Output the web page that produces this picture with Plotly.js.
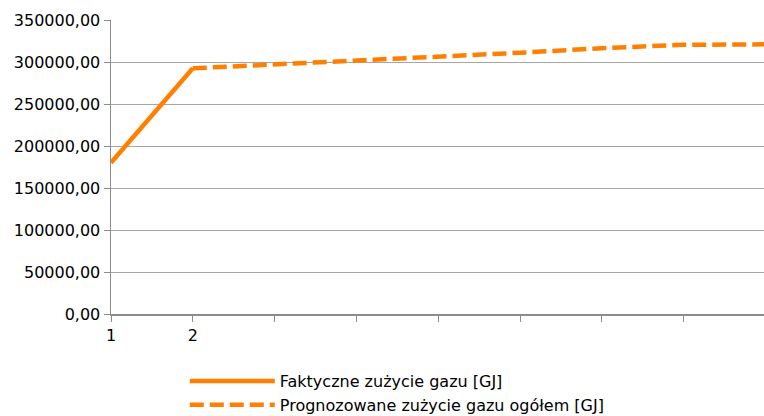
<!DOCTYPE html>
<html>
<head>
<meta charset="utf-8">
<script src="https://cdn.plot.ly/plotly-3.0.1.min.js"></script>
<style>
html,body{margin:0;padding:0;background:#fff;}
#chart{width:764px;height:416px;}
</style>
</head>
<body>
<div id="chart"></div>
<script>
// Data
var categories = [1, 2, 3, 4, 5, 6, 7, 8, 9];
var tickLabels = ["1", "2", "", "", "", "", "", "", ""];
var actualName = "Faktyczne zużycie gazu [GJ]";
var forecastName = "Prognozowane zużycie gazu ogółem [GJ]";
var actualValues = [180000, 292500, null, null, null, null, null, null, null];
var forecastValues = [null, 292500, 297000, 301500, 306000, 311000, 316500, 320500, 321000];
var yTickVals = [0, 50000, 100000, 150000, 200000, 250000, 300000, 350000];
var yTickText = ["0,00", "50000,00", "100000,00", "150000,00", "200000,00", "250000,00", "300000,00", "350000,00"];

var orange = "#ff8000";
var fontFam = "DejaVu Sans, sans-serif";

var traces = [
  {
    x: categories, y: actualValues, name: actualName,
    type: "scatter", mode: "lines",
    line: {color: orange, width: 4.5},
    connectgaps: false
  },
  {
    x: categories, y: forecastValues, name: forecastName,
    type: "scatter", mode: "lines",
    line: {color: orange, width: 4.5, dash: "14px,6px"},
    connectgaps: false
  }
];

var layout = {
  width: 764, height: 416,
  margin: {l: 111, r: 0, t: 19.5, b: 102, autoexpand: false},
  paper_bgcolor: "#ffffff",
  plot_bgcolor: "#ffffff",
  font: {family: fontFam, size: 16, color: "#000000"},
  showlegend: true,
  xaxis: {
    range: [1, 1 + 653 / 81.8],
    tickvals: categories,
    ticktext: tickLabels,
    ticks: "outside", ticklen: 6, tickcolor: "#8c8c8c", tickwidth: 1,
    showgrid: false, zeroline: false,
    showline: true, linecolor: "#8c8c8c", linewidth: 1.5,
    tickfont: {family: fontFam, size: 16, color: "#000"},
    fixedrange: true
  },
  yaxis: {
    range: [0, 350000],
    tickvals: yTickVals,
    ticktext: yTickText,
    ticks: "outside", ticklen: 6, tickcolor: "#8c8c8c", tickwidth: 1,
    showgrid: true, gridcolor: "#a6a6a6", gridwidth: 1,
    zeroline: false,
    showline: true, linecolor: "#8c8c8c", linewidth: 1.5,
    tickfont: {family: fontFam, size: 16, color: "#000"},
    fixedrange: true
  },
  legend: {
    x: 0.113, xanchor: "left",
    y: -0.17, yanchor: "top",
    orientation: "v",
    itemwidth: 85,
    font: {family: fontFam, size: 16, color: "#000"},
    bgcolor: "rgba(0,0,0,0)",
    tracegroupgap: 0
  }
};

Plotly.newPlot("chart", traces, layout, {displayModeBar: false, staticPlot: true});
</script>
</body>
</html>
